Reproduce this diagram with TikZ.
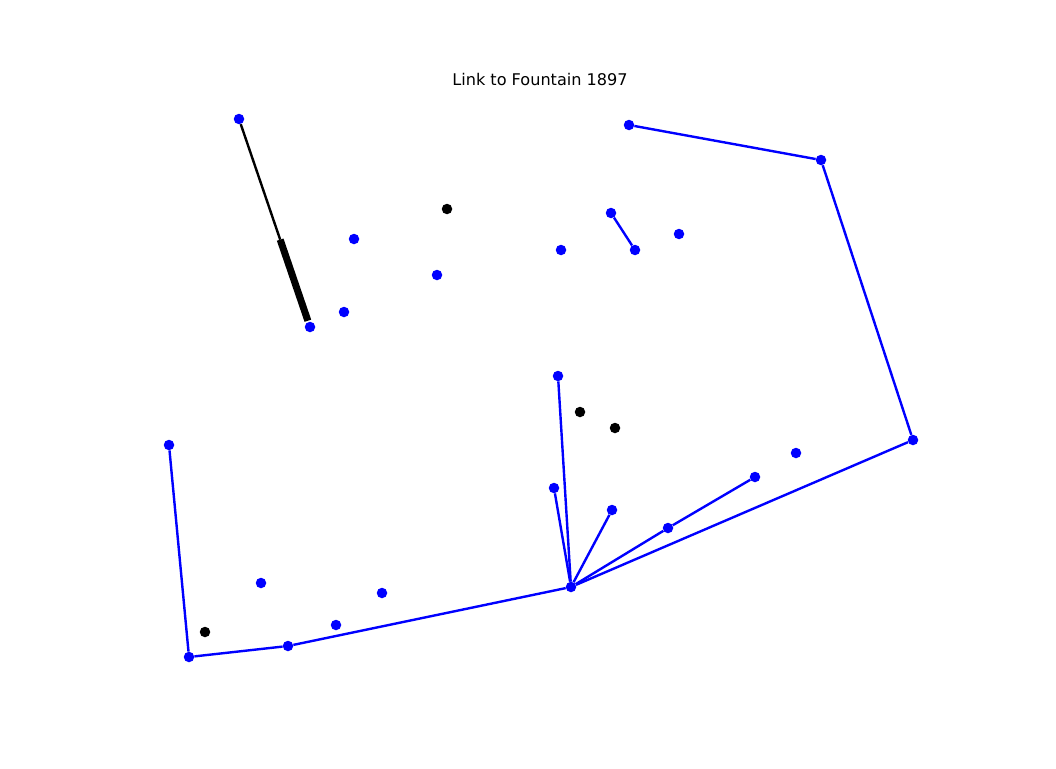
\documentclass[tikz,border=0pt]{standalone}
\usepackage{fontspec}
\setmainfont{DejaVu Sans}
\usetikzlibrary{calc}

\begin{document}
\begin{tikzpicture}[x=1pt,y=-1pt,
  dot/.style={circle,fill=blue,inner sep=0pt,minimum size=10.5pt},
  kdot/.style={circle,fill=black,inner sep=0pt,minimum size=10.5pt},
  link/.style={draw=blue,line width=2.4pt},
  ttl/.style={font=\fontsize{16.1}{19}\selectfont}]
 \useasboundingbox (0,0) rectangle (1056,768);
 \node[ttl] (title) at (540,79) {Link to Fountain 1897};
 % Points
 \node[dot] (a1) at (239,119) {};
 \node[dot] (a2) at (310,327) {};
 \node[dot] (b1) at (354,239) {};
 \node[dot] (b2) at (344,312) {};
 \node[dot] (b3) at (437,275) {};
 \node[dot] (b4) at (561,250) {};
 \node[dot] (c1) at (611,213) {};
 \node[dot] (c2) at (635,250) {};
 \node[dot] (b5) at (679,234) {};
 \node[dot] (r1) at (629,125) {};
 \node[dot] (r2) at (821,160) {};
 \node[dot] (r3) at (913,440) {};
 \node[dot] (s1) at (558,376) {};
 \node[dot] (s2) at (554,488) {};
 \node[dot] (s3) at (612,510) {};
 \node[dot] (s4) at (668,528) {};
 \node[dot] (s5) at (755,477) {};
 \node[dot] (b6) at (796,453) {};
 \node[dot] (hub) at (571,587) {};
 \node[dot] (l1) at (169,445) {};
 \node[dot] (l2) at (189,657) {};
 \node[dot] (l3) at (288,646) {};
 \node[dot] (b7) at (261,583) {};
 \node[dot] (b8) at (336,625) {};
 \node[dot] (b9) at (382,593) {};
 \node[kdot] (k1) at (447,209) {};
 \node[kdot] (k2) at (580,412) {};
 \node[kdot] (k3) at (615,428) {};
 \node[kdot] (k4) at (205,632) {};
 % Links
 \draw[link] (r1) -- (r2) -- (r3) -- (hub);
 \draw[link] (c1) -- (c2);
 \draw[link] (s1) -- (hub);
 \draw[link] (s2) -- (hub);
 \draw[link] (s3) -- (hub);
 \draw[link] (s5) -- (s4) -- (hub);
 \draw[link] (l1) -- (l2) -- (l3) -- (hub);
 % Arrow
 \coordinate (h1) at ($(a1)!0.58!(a2)$);
 \coordinate (h2) at ($(a1)!0.97!(a2)$);
 \draw[line width=2.4pt] (a1) -- (h1);
 \draw[line width=7pt] (h1) -- (h2);
\end{tikzpicture}
\end{document}
